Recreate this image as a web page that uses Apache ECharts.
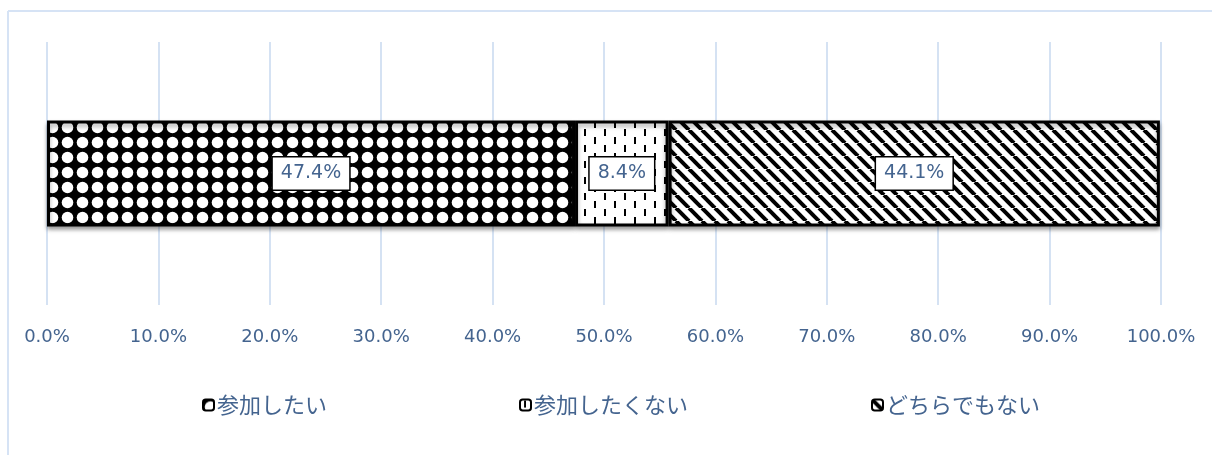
<!DOCTYPE html>
<html>
<head>
<meta charset="utf-8">
<script src="https://cdn.jsdelivr.net/npm/echarts@6/dist/echarts.min.js"></script>
<style>
html,body{margin:0;padding:0;background:#fff;}
#main{width:1212px;height:455px;}
</style>
</head>
<body>
<div id="main"></div>
<script>
// data
var categories = ['回答'];
var seriesNames = ['参加したい', '参加したくない', 'どちらでもない'];
var wantValues = [0.474];
var notWantValues = [0.084];
var neitherValues = [0.441];
var tickValues = [0, 0.1, 0.2, 0.3, 0.4, 0.5, 0.6, 0.7, 0.8, 0.9, 1.0];

var blue = '#44648f';

// patterns
function dotPattern(){
    var c = document.createElement('canvas');
    c.width = 15; c.height = 15;
    var ctx = c.getContext('2d');
    ctx.fillStyle = '#000';
    ctx.fillRect(0, 0, 15, 15);
    ctx.fillStyle = '#fff';
    ctx.beginPath();
    ctx.arc(7.5, 7.5, 5.8, 0, Math.PI * 2);
    ctx.fill();
    return c;
}

function dashPattern(){
    var c = document.createElement('canvas');
    c.width = 20; c.height = 16;
    var ctx = c.getContext('2d');
    ctx.fillStyle = '#fff';
    ctx.fillRect(0, 0, 20, 16);
    ctx.fillStyle = '#000';
    ctx.fillRect(4, 1, 2, 7);
    ctx.fillRect(14, 9, 2, 7);
    return c;
}

function stripePattern(){
    var c = document.createElement('canvas');
    c.width = 13; c.height = 13;
    var ctx = c.getContext('2d');
    ctx.fillStyle = '#fff';
    ctx.fillRect(0, 0, 13, 13);
    ctx.strokeStyle = '#000';
    ctx.lineWidth = 4;
    for(var k = -1; k <= 1; k++){
        ctx.beginPath();
        ctx.moveTo(k * 13, 0);
        ctx.lineTo(k * 13 + 13, 13);
        ctx.stroke();
    }
    return c;
}

function barSeries(name, values, pattern){
    return {
        name: name,
        type: 'bar',
        stack: 'total',
        barWidth: 106,
        data: values,
        itemStyle: {
            color: {image: pattern, repeat: 'repeat'},
            borderColor: '#000',
            borderWidth: 3,
            shadowColor: 'rgba(0,0,0,0.35)',
            shadowBlur: 4,
            shadowOffsetY: 3
        },
        label: {
            show: true,
            position: 'inside',
            formatter: function(p){ return (p.value * 100).toFixed(1) + '%'; },
            color: blue,
            fontFamily: 'DejaVu Sans',
            fontSize: 19,
            backgroundColor: '#fff',
            borderColor: '#000',
            borderWidth: 1.5,
            padding: [7, 8, 6, 8]
        },
        emphasis: {disabled: true}
    };
}

// one legend per item, placed like the original
function legendItem(name, left){
    return {
        data: [name],
        left: left,
        top: 389,
        itemWidth: 11,
        itemHeight: 11,
        itemGap: 4,
        itemStyle: {borderWidth: 2, borderColor: '#000'},
        textStyle: {color: blue, fontSize: 22, fontFamily: 'Noto Sans CJK JP', padding: [0, 0, 0, -2]}
    };
}

var chart = echarts.init(document.getElementById('main'));

var option = {
    animation: false,
    backgroundColor: '#fff',
    graphic: [
        // chart area frame
        {type: 'line', shape: {x1: 8, y1: 11, x2: 1212, y2: 11}, style: {stroke: '#d6e3f5', lineWidth: 2}},
        {type: 'line', shape: {x1: 8, y1: 11, x2: 8, y2: 455}, style: {stroke: '#d6e3f5', lineWidth: 2}}
    ],
    grid: {left: 47, right: 51, top: 42, bottom: 150},
    legend: [
        legendItem(seriesNames[0], 197),
        legendItem(seriesNames[1], 514),
        legendItem(seriesNames[2], 866)
    ],
    xAxis: {
        type: 'value',
        min: tickValues[0],
        max: tickValues[tickValues.length - 1],
        interval: 0.1,
        axisLine: {show: false},
        axisTick: {show: false},
        splitLine: {lineStyle: {color: '#d5e2f3', width: 2}},
        axisLabel: {
            margin: 23,
            color: blue,
            fontFamily: 'DejaVu Sans',
            fontSize: 18,
            formatter: function(v){ return (v * 100).toFixed(1) + '%'; }
        }
    },
    yAxis: {
        type: 'category',
        data: categories,
        show: false
    },
    series: [
        barSeries(seriesNames[0], wantValues, dotPattern()),
        barSeries(seriesNames[1], notWantValues, dashPattern()),
        barSeries(seriesNames[2], neitherValues, stripePattern())
    ]
};

chart.setOption(option);
</script>
</body>
</html>
